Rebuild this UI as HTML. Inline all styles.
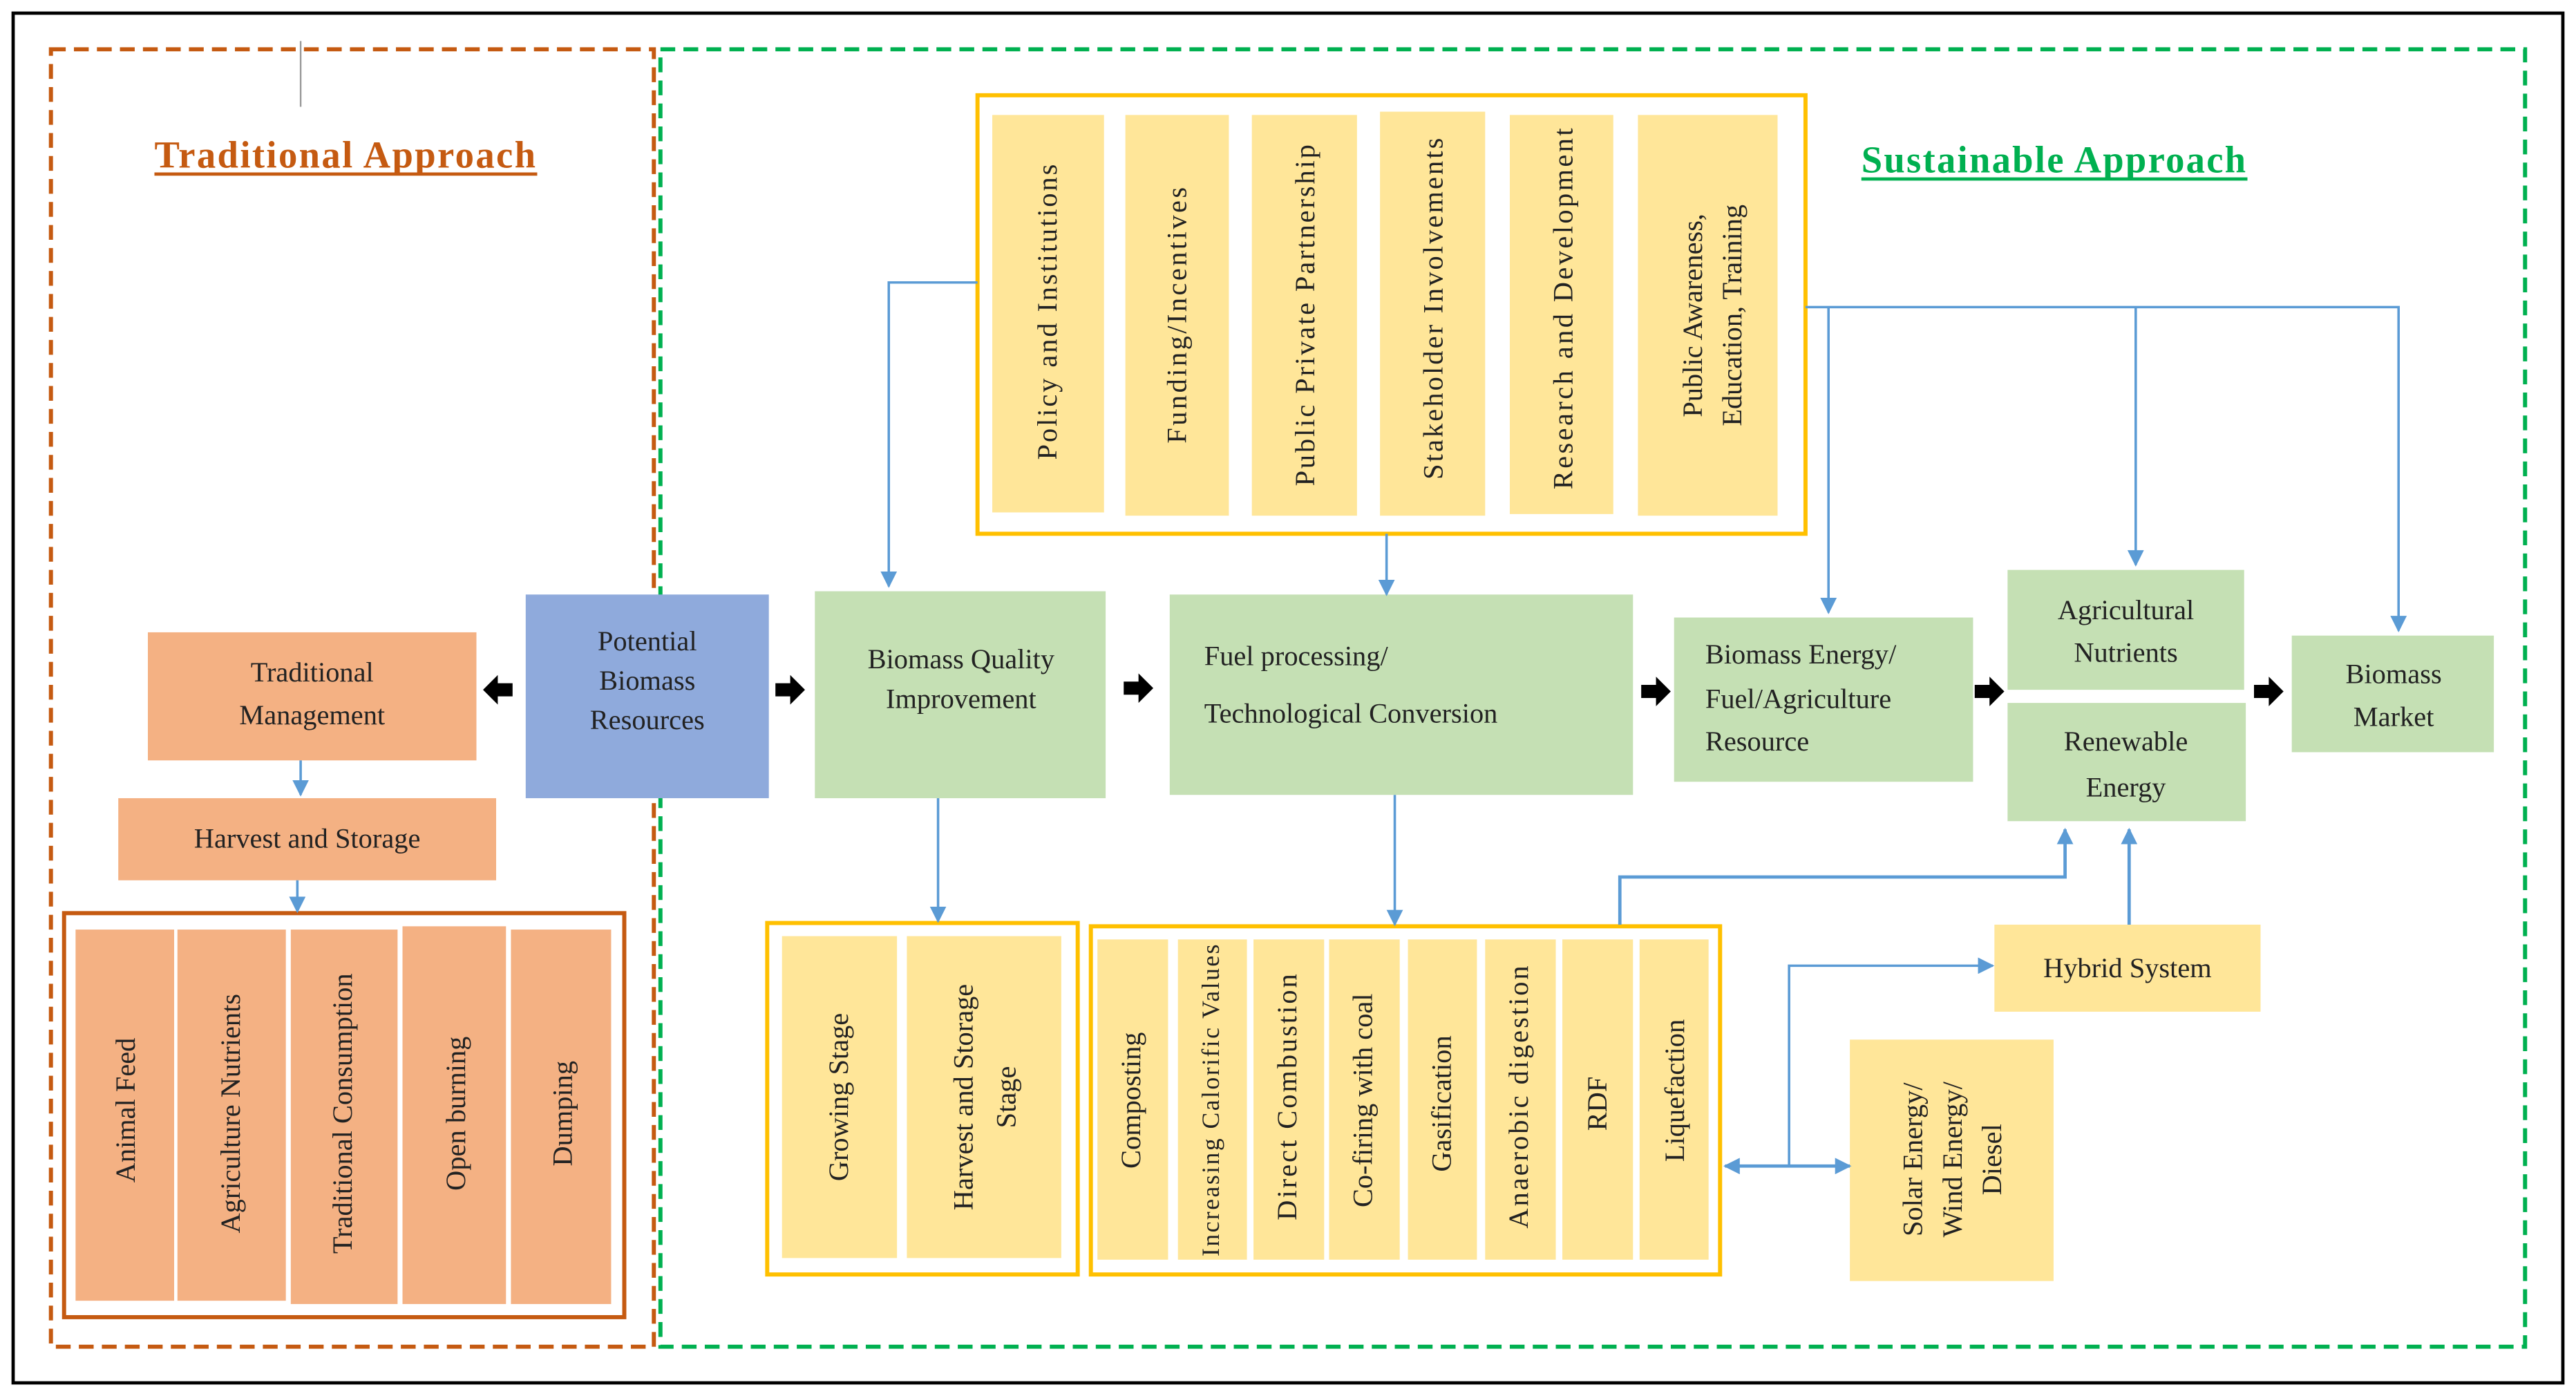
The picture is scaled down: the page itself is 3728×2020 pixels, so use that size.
<!DOCTYPE html>
<html><head><meta charset="utf-8"><style>html,body{margin:0;padding:0;background:#fff}svg{display:block}text{font-family:"Liberation Serif",serif}</style></head>
<body>
<svg width="3728" height="2020" viewBox="0 0 1568 850" preserveAspectRatio="none" xmlns="http://www.w3.org/2000/svg" font-size="17" fill="#222">
<defs>
<marker id="b" markerWidth="10" markerHeight="10" refX="9" refY="5" orient="auto" markerUnits="userSpaceOnUse"><path d="M0,0 L10,5 L0,10 Z" fill="#5b9bd5"/></marker>
<marker id="bs" markerWidth="10" markerHeight="10" refX="1" refY="5" orient="auto" markerUnits="userSpaceOnUse"><path d="M10,0 L0,5 L10,10 Z" fill="#5b9bd5"/></marker>
<g id="ar"><path d="M-9,-4 L0,-4 L0,-9 L9,0 L0,9 L0,4 L-9,4 Z" fill="#000"/></g>
</defs>
<rect x="8" y="8" width="1552" height="834" fill="none" stroke="#000" stroke-width="2"/>
<rect x="31" y="30" width="367" height="790" fill="none" stroke="#c55a11" stroke-width="2.5" stroke-dasharray="9,5"/>
<rect x="402" y="30" width="1135" height="790" fill="none" stroke="#00b050" stroke-width="2.5" stroke-dasharray="9,5"/>
<line x1="183" y1="25" x2="183" y2="65" stroke="#999" stroke-width="1"/>
<text x="210" y="102" text-anchor="middle" font-size="23" font-weight="bold" fill="#c55a11" textLength="232">Traditional Approach</text>
<line x1="94" y1="106" x2="327" y2="106" stroke="#c55a11" stroke-width="2"/>
<text x="1250" y="105" text-anchor="middle" font-size="23" font-weight="bold" fill="#00b050" textLength="234">Sustainable Approach</text>
<line x1="1133" y1="109" x2="1368" y2="109" stroke="#00b050" stroke-width="2"/>

<rect x="595" y="58" width="504" height="267" fill="none" stroke="#ffc000" stroke-width="2.5"/>
<g fill="#ffe699">
<rect x="604" y="70" width="68" height="242"/><rect x="685" y="70" width="63" height="244"/><rect x="762" y="70" width="64" height="244"/><rect x="840" y="68" width="64" height="246"/><rect x="919" y="70" width="63" height="243"/><rect x="997" y="70" width="85" height="244"/>
</g>
<g font-size="17">
<text transform="translate(643,190) rotate(-90)" text-anchor="middle" textLength="180">Policy and Institutions</text>
<text transform="translate(722,192) rotate(-90)" text-anchor="middle" textLength="156">Funding/Incentives</text>
<text transform="translate(800,192) rotate(-90)" text-anchor="middle" textLength="208">Public Private Partnership</text>
<text transform="translate(878,188) rotate(-90)" text-anchor="middle" textLength="208">Stakeholder Involvements</text>
<text transform="translate(957,188) rotate(-90)" text-anchor="middle" textLength="220">Research and Development</text>
<text transform="translate(1036,192) rotate(-90)" text-anchor="middle">Public Awareness,</text>
<text transform="translate(1060,192) rotate(-90)" text-anchor="middle">Education, Training</text>
</g>

<rect x="90" y="385" width="200" height="78" fill="#f4b183"/>
<text x="190" y="415" text-anchor="middle">Traditional</text><text x="190" y="441" text-anchor="middle">Management</text>
<rect x="72" y="486" width="230" height="50" fill="#f4b183"/>
<text x="187" y="516" text-anchor="middle">Harvest and Storage</text>
<rect x="39" y="556" width="341" height="246" fill="none" stroke="#c55a11" stroke-width="2.5"/>
<g fill="#f4b183"><rect x="46" y="566" width="60" height="226"/><rect x="108" y="566" width="66" height="226"/><rect x="177" y="566" width="65" height="228"/><rect x="245" y="564" width="63" height="230"/><rect x="311" y="566" width="61" height="228"/></g>
<text transform="translate(82,676) rotate(-90)" text-anchor="middle">Animal Feed</text>
<text transform="translate(146,678) rotate(-90)" text-anchor="middle">Agriculture Nutrients</text>
<text transform="translate(214,678) rotate(-90)" text-anchor="middle">Traditional Consumption</text>
<text transform="translate(283,678) rotate(-90)" text-anchor="middle">Open burning</text>
<text transform="translate(348,678) rotate(-90)" text-anchor="middle">Dumping</text>

<rect x="320" y="362" width="148" height="124" fill="#8faadc"/>
<text x="394" y="396" text-anchor="middle">Potential</text><text x="394" y="420" text-anchor="middle">Biomass</text><text x="394" y="444" text-anchor="middle">Resources</text>
<rect x="496" y="360" width="177" height="126" fill="#c5e0b4"/>
<text x="585" y="407" text-anchor="middle">Biomass Quality</text><text x="585" y="431" text-anchor="middle">Improvement</text>
<rect x="712" y="362" width="282" height="122" fill="#c5e0b4"/>
<text x="733" y="405">Fuel processing/</text><text x="733" y="440">Technological Conversion</text>
<rect x="1019" y="376" width="182" height="100" fill="#c5e0b4"/>
<text x="1038" y="404">Biomass Energy/</text><text x="1038" y="431">Fuel/Agriculture</text><text x="1038" y="457">Resource</text>
<rect x="1222" y="347" width="144" height="73" fill="#c5e0b4"/>
<text x="1294" y="377" text-anchor="middle">Agricultural</text><text x="1294" y="403" text-anchor="middle">Nutrients</text>
<rect x="1222" y="428" width="145" height="72" fill="#c5e0b4"/>
<text x="1294" y="457" text-anchor="middle">Renewable</text><text x="1294" y="485" text-anchor="middle">Energy</text>
<rect x="1395" y="387" width="123" height="71" fill="#c5e0b4"/>
<text x="1457" y="416" text-anchor="middle">Biomass</text><text x="1457" y="442" text-anchor="middle">Market</text>

<rect x="1214" y="563" width="162" height="53" fill="#ffe699"/>
<text x="1295" y="595" text-anchor="middle">Hybrid System</text>
<rect x="1126" y="633" width="124" height="147" fill="#ffe699"/>
<text transform="translate(1170,706) rotate(-90)" text-anchor="middle">Solar Energy/</text>
<text transform="translate(1194,706) rotate(-90)" text-anchor="middle">Wind Energy/</text>
<text transform="translate(1218,706) rotate(-90)" text-anchor="middle">Diesel</text>

<rect x="467" y="562" width="189" height="214" fill="none" stroke="#ffc000" stroke-width="2.5"/>
<g fill="#ffe699"><rect x="476" y="570" width="70" height="196"/><rect x="552" y="570" width="94" height="196"/></g>
<text transform="translate(516,668) rotate(-90)" text-anchor="middle">Growing Stage</text>
<text transform="translate(592,668) rotate(-90)" text-anchor="middle">Harvest and Storage</text>
<text transform="translate(618,668) rotate(-90)" text-anchor="middle">Stage</text>
<rect x="664" y="564" width="383" height="212" fill="none" stroke="#ffc000" stroke-width="2.5"/>
<g fill="#ffe699"><rect x="668" y="572" width="43" height="195"/><rect x="717" y="572" width="42" height="195"/><rect x="763" y="572" width="43" height="195"/><rect x="809" y="572" width="43" height="195"/><rect x="857" y="572" width="42" height="195"/><rect x="904" y="572" width="43" height="195"/><rect x="951" y="572" width="43" height="195"/><rect x="998" y="572" width="42" height="195"/></g>
<g>
<text transform="translate(694,670) rotate(-90)" text-anchor="middle">Composting</text>
<text transform="translate(742,670) rotate(-90)" text-anchor="middle" font-size="15" textLength="190">Increasing Calorific Values</text>
<text transform="translate(789,668) rotate(-90)" text-anchor="middle" textLength="150">Direct Combustion</text>
<text transform="translate(835,670) rotate(-90)" text-anchor="middle">Co-firing with coal</text>
<text transform="translate(883,672) rotate(-90)" text-anchor="middle">Gasification</text>
<text transform="translate(930,668) rotate(-90)" text-anchor="middle" textLength="160">Anaerobic digestion</text>
<text transform="translate(978,672) rotate(-90)" text-anchor="middle">RDF</text>
<text transform="translate(1025,664) rotate(-90)" text-anchor="middle">Liquefaction</text>
</g>

<g stroke="#5b9bd5" stroke-width="1.5" fill="none">
<path d="M595,172 H541 V357" marker-end="url(#b)"/>
<path d="M844,325 V362" marker-end="url(#b)"/>
<path d="M1099,187 H1460 V384" marker-end="url(#b)"/>
<path d="M1113,187 V373" marker-end="url(#b)"/>
<path d="M1300,187 V344" marker-end="url(#b)"/>
<path d="M571,486 V561" marker-end="url(#b)"/>
<path d="M849,484 V563" marker-end="url(#b)"/>
<path d="M986,563 V534 H1257 V505" marker-end="url(#b)" stroke-width="2"/>
<path d="M1296,563 V505" marker-end="url(#b)" stroke-width="2"/>
<path d="M1050,710 H1126" marker-start="url(#bs)" marker-end="url(#b)" stroke-width="2"/>
<path d="M1089,710 V588 H1213" marker-end="url(#b)"/>
<path d="M183,463 V484" marker-end="url(#b)"/>
<path d="M181,536 V555" marker-end="url(#b)"/>
</g>

<use href="#ar" transform="translate(303,420) rotate(180)"/>
<use href="#ar" transform="translate(481,420)"/>
<use href="#ar" transform="translate(693,419)"/>
<use href="#ar" transform="translate(1008,421)"/>
<use href="#ar" transform="translate(1211,421)"/>
<use href="#ar" transform="translate(1381,421)"/>
</svg>
</body></html>
